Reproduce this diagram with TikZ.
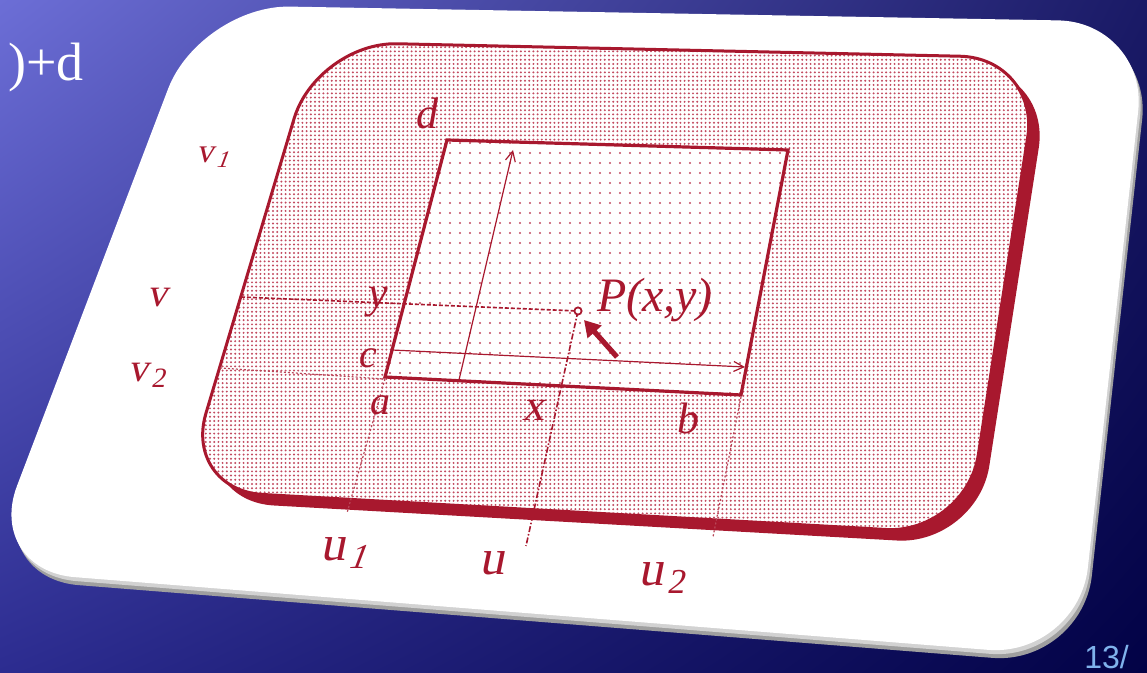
\documentclass[tikz,border=0pt]{standalone}
\usepackage{fontspec}
\setmainfont{Liberation Serif}
\newfontfamily\pagefont{Liberation Sans}
\newfontfamily\slantfont{Liberation Serif}[FakeSlant=0.2]
\usepackage{xcolor}
\usetikzlibrary{patterns.meta,arrows.meta,shadings}

\definecolor{cardred}{HTML}{A8182E}
\definecolor{dotred}{HTML}{C24A60}
\definecolor{slidetl}{HTML}{6C6ED6}
\definecolor{slidetr}{HTML}{1A1A66}
\definecolor{slidebl}{HTML}{2C2C90}
\definecolor{slidebr}{HTML}{020246}
\definecolor{pageblue}{HTML}{7FB2EC}

\tikzdeclarepattern{
  name=finedots,
  type=uncolored,
  bounding box={(-1.05pt,-1.05pt) and (1.05pt,1.05pt)},
  tile size={(2.1pt,2.1pt)},
  code={\fill (0pt,0pt) circle (0.55pt);}
}
\tikzdeclarepattern{
  name=coarsedots,
  type=uncolored,
  bounding box={(-2.5pt,-2.5pt) and (2.5pt,2.5pt)},
  tile size={(5pt,5pt)},
  code={\fill (0pt,0pt) circle (0.55pt);}
}

\newcommand\cardpath{(200,5) -- (1148,22) -- (1078,657) -- (-15,570) -- cycle}
\newcommand\framepath{(317,42) -- (1040,58) -- (966,534) -- (183,490) -- cycle}
\newcommand\windowpath{(447,140) -- (788,150) -- (741,395) -- (385,377) -- cycle}

\begin{document}
\begin{tikzpicture}[x=0.5pt,y=-0.5pt,
    lbl/.style={text=cardred,inner sep=0pt,font=\itshape\fontsize{#1}{#1}\selectfont},
    lbl/.default=20,
    rlbl/.style={text=cardred,inner sep=0pt,font=\slantfont\fontsize{#1}{#1}\selectfont},
    rlbl/.default=20,
    guide/.style={cardred,line width=0.8pt,dash pattern=on 2pt off 1pt},
    faint/.style={cardred!80,line width=0.6pt,dash pattern=on 1pt off 1pt},
    axisline/.style={cardred,line width=0.6pt,-{Straight Barb[length=5pt,width=5pt]}}]
  \useasboundingbox (0,0) rectangle (1147,673);
  \clip (0,0) rectangle (1147,673);

  % Slide background
  \shade[upper left=slidetl,upper right=slidetr,lower left=slidebl,lower right=slidebr]
    (0,0) rectangle (1147,673);
  \node[anchor=base east,text=white,inner sep=0pt,font=\fontsize{27}{27}\selectfont]
    (formula) at (84,81) {)+d};
  \node[anchor=north west,text=pageblue,inner sep=0pt,font=\pagefont\fontsize{16}{16}\selectfont]
    (pagenum) at (1084,645) {13/};

  % Card with bevel
  \begin{scope}[shift={(4,8)}]
    \fill[gray!75,rounded corners=45pt] \cardpath;
  \end{scope}
  \begin{scope}[shift={(2,4)}]
    \fill[gray!35,rounded corners=45pt] \cardpath;
  \end{scope}
  \fill[white,rounded corners=45pt] \cardpath;

  % Frame (window plane)
  \begin{scope}[shift={(11,11)}]
    \fill[cardred,rounded corners=40pt] \framepath;
  \end{scope}
  \fill[white,rounded corners=40pt] \framepath;
  \fill[pattern=finedots,pattern color=dotred,rounded corners=40pt] \framepath;
  \draw[cardred,line width=1.5pt,rounded corners=40pt] \framepath;

  % Window
  \fill[white] \windowpath;
  \fill[pattern=coarsedots,pattern color=dotred] \windowpath;
  \draw[cardred,line width=1.6pt,line join=miter] \windowpath;

  % Axes inside window
  \coordinate (xs) at (392,350);
  \coordinate (xe) at (745,367);
  \coordinate (ys) at (459,380);
  \coordinate (ye) at (513,150);
  \draw[axisline] (xs) -- (xe);
  \draw[axisline] (ys) -- (ye);

  % Point and guides
  \coordinate (P) at (578,311);
  \coordinate (vl) at (241,297);
  \coordinate (v2l) at (220,368);
  \coordinate (wa) at (385,379);
  \coordinate (wb) at (741,397);
  \coordinate (ua) at (347,513);
  \coordinate (ub) at (713,537);
  \coordinate (uu) at (526,546);
  \draw[guide] (vl) -- (P);
  \draw[faint] (v2l) -- (wa);
  \draw[faint] (wa) -- (ua);
  \draw[faint] (wb) -- (ub);
  \draw[cardred,line width=0.8pt,dash pattern=on 3pt off 1pt on 0.8pt off 1pt] (P) -- (uu);
  \draw[cardred,line width=0.9pt,fill=white] (P) circle[radius=1.8pt];
  \coordinate (pt) at (617,357);
  \coordinate (ph) at (584,320);
  \draw[cardred,line width=2.6pt,-{Triangle[length=8pt,width=9pt]}] (pt) -- (ph);

  % Labels
  \node[lbl=22] (dlab) at (427,113) {d};
  \node[rlbl=17] (v1lab) at (213,157) {v\kern1.5pt\textsubscript{\itshape 1}};
  \node[rlbl] (vlab) at (157,298) {v};
  \node[lbl=22] (ylab) at (378,302) {y};
  \node[lbl=24] (plab) at (655,300) {P(x,y)};
  \node[rlbl] (v2lab) at (147,375) {v\kern1.5pt\textsubscript{2}};
  \node[lbl] (clab) at (368,358) {c};
  \node[lbl] (alab) at (380,405) {a};
  \node[rlbl=22] (xlab) at (533,410) {x};
  \node[lbl=22] (blab) at (688,418) {b};
  \node[rlbl=25] (u1lab) at (344,553) {u\kern1.5pt\textsubscript{\itshape 1}};
  \node[rlbl=25] (ulab) at (492,563) {u};
  \node[rlbl=25] (u2lab) at (662,578) {u\kern1.5pt\textsubscript{2}};
\end{tikzpicture}
\end{document}
